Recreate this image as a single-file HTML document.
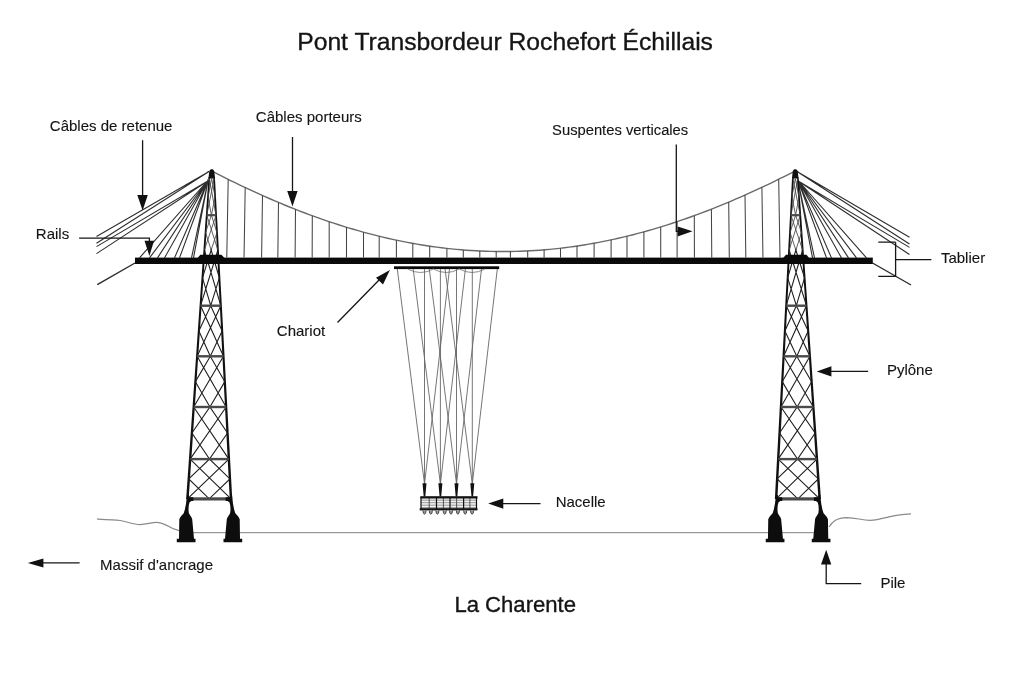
<!DOCTYPE html>
<html><head><meta charset="utf-8"><style>
html,body{margin:0;padding:0;background:#fff;width:1030px;height:681px;overflow:hidden;position:relative}
.t{position:absolute;font-family:"Liberation Sans",sans-serif;color:#1e1e1e;white-space:nowrap;line-height:0;height:0}
</style></head><body>
<svg width="1030" height="681" viewBox="0 0 1030 681" style="position:absolute;left:0;top:0;filter:blur(0.35px)">
<path d="M190,532.6 L816,532.6" stroke="#9a9a9a" stroke-width="1.3" fill="none"/>
<path d="M96.9,519 C108,519.5 115,519.8 120,520.5 C128,522 134,524.6 140,524.6 C147,524.2 152,522.3 157,522.4 C162,522.6 164,524.2 168,526 C172,528.5 176,530 179,530.6" stroke="#8a8a8a" stroke-width="1.2" fill="none"/>
<path d="M829,527 C831,524 832.5,522 835,520.5 C839,518.2 843,517.6 847,517.6 C856,517.8 862,520.2 870,520.3 C880,519.8 887,516.8 895,515.6 C902,514.7 906,514.2 911,513.9" stroke="#8a8a8a" stroke-width="1.2" fill="none"/>
<path d="M209.00,171.5 L96.50,236.5 M209.00,171.5 L96.50,243.2 M208.20,180.8 L96.50,246.6 M208.20,180.8 L96.50,253.6 M208.20,180 L193.50,257.90000000000003 M208.20,180 L191.50,257.90000000000003 M208.20,180 L179.50,257.90000000000003 M208.20,180 L174.50,257.90000000000003 M208.20,180 L164.50,257.90000000000003 M208.20,180 L157.50,257.90000000000003 M208.20,180 L149.50,257.90000000000003 M208.20,180 L139.50,257.90000000000003 M797.00,171.5 L909.50,237.2 M797.00,171.5 L909.50,244.0 M797.80,180.8 L909.50,247.4 M797.80,180.8 L909.50,254.5 M797.80,180 L812.50,257.90000000000003 M797.80,180 L814.50,257.90000000000003 M797.80,180 L826.50,257.90000000000003 M797.80,180 L831.50,257.90000000000003 M797.80,180 L841.50,257.90000000000003 M797.80,180 L848.50,257.90000000000003 M797.80,180 L856.50,257.90000000000003 M797.80,180 L866.50,257.90000000000003" stroke="#2e2e2e" stroke-width="1.1" fill="none"/>
<path d="M135,263 L97.3,284.7 M872.5,263 L911,285" stroke="#2a2a2a" stroke-width="1.4" fill="none"/>
<path d="M211.00,170.59 L215.91,173.12 L220.82,175.62 L225.72,178.08 L230.63,180.52 L235.54,182.92 L240.45,185.29 L245.35,187.62 L250.26,189.92 L255.17,192.18 L260.08,194.40 L264.98,196.59 L269.89,198.75 L274.80,200.86 L279.71,202.94 L284.61,204.98 L289.52,206.98 L294.43,208.94 L299.34,210.86 L304.24,212.75 L309.15,214.59 L314.06,216.39 L318.97,218.15 L323.87,219.86 L328.78,221.54 L333.69,223.17 L338.60,224.76 L343.50,226.31 L348.41,227.81 L353.32,229.27 L358.23,230.69 L363.13,232.06 L368.04,233.39 L372.95,234.67 L377.86,235.91 L382.76,237.10 L387.67,238.24 L392.58,239.34 L397.49,240.40 L402.39,241.40 L407.30,242.36 L412.21,243.28 L417.12,244.14 L422.03,244.96 L426.93,245.73 L431.84,246.46 L436.75,247.13 L441.66,247.76 L446.56,248.34 L451.47,248.88 L456.38,249.36 L461.29,249.80 L466.19,250.19 L471.10,250.53 L476.01,250.82 L480.92,251.06 L485.82,251.25 L490.73,251.40 L495.64,251.50 L500.55,251.55 L505.45,251.55 L510.36,251.50 L515.27,251.40 L520.18,251.25 L525.08,251.06 L529.99,250.81 L534.90,250.52 L539.81,250.18 L544.71,249.79 L549.62,249.36 L554.53,248.87 L559.44,248.34 L564.34,247.76 L569.25,247.13 L574.16,246.46 L579.07,245.73 L583.97,244.96 L588.88,244.14 L593.79,243.28 L598.70,242.37 L603.61,241.41 L608.51,240.40 L613.42,239.35 L618.33,238.26 L623.24,237.12 L628.14,235.93 L633.05,234.70 L637.96,233.42 L642.87,232.10 L647.77,230.73 L652.68,229.32 L657.59,227.87 L662.50,226.37 L667.40,224.83 L672.31,223.25 L677.22,221.62 L682.13,219.95 L687.03,218.24 L691.94,216.49 L696.85,214.70 L701.76,212.87 L706.66,211.00 L711.57,209.09 L716.48,207.14 L721.39,205.15 L726.29,203.13 L731.20,201.06 L736.11,198.96 L741.02,196.83 L745.92,194.65 L750.83,192.44 L755.74,190.20 L760.65,187.92 L765.55,185.60 L770.46,183.26 L775.37,180.88 L780.28,178.46 L785.18,176.02 L790.09,173.54 L795.00,171.04" stroke="#6a6a6a" stroke-width="1.4" fill="none"/>
<path d="M228.20,179.32 L226.77,257.6 M245.20,187.55 L244.03,257.6 M262.50,195.49 L261.60,257.6 M278.50,202.43 L277.84,257.6 M295.50,209.37 L295.11,257.6 M312.30,215.75 L312.17,257.6 M329.20,221.68 L329.20,257.6 M346.50,227.23 L346.50,257.6 M363.50,232.16 L363.50,257.6 M379.20,236.24 L379.20,257.6 M396.40,240.17 L396.40,257.6 M412.80,243.38 L412.80,257.6 M429.70,246.15 L429.70,257.6 M446.90,248.38 L446.90,257.6 M463.30,249.96 L463.30,257.6 M479.80,251.01 L479.80,257.6 M496.20,251.51 L496.20,257.6 M510.40,251.50 L510.40,257.6 M527.70,250.93 L527.70,257.6 M544.10,249.85 L544.10,257.6 M560.50,248.22 L560.50,257.6 M577.00,246.04 L577.00,257.6 M594.10,243.22 L594.10,257.6 M611.10,239.86 L611.10,257.6 M627.00,236.21 L627.00,257.6 M643.90,231.81 L643.90,257.6 M660.70,226.92 L660.70,257.6 M677.10,221.66 L677.10,257.6 M694.30,215.64 L694.43,257.6 M711.40,209.16 L711.76,257.6 M728.70,202.12 L729.30,257.6 M745.00,195.06 L745.82,257.6 M761.90,187.33 L762.95,257.6 M778.70,179.24 L779.98,257.6" stroke="#444" stroke-width="1.05" fill="none"/>
<path d="M208.52,177.0 L210.22,177.0 L188.66,499.0 L186.16,499.0 Z M213.20,177.0 L214.90,177.0 L232.24,499.0 L229.74,499.0 Z" fill="#111"/>
<path d="M209.16,172 C209.56,169.6 210.76,169.2 211.76,169.2 C212.76,169.2 213.96,169.6 214.36,172 L215.06,178.4 L208.46,178.4 Z" fill="#111"/>
<path d="M209.27,178.5 L216.06,215.2 M214.13,178.5 L206.76,215.2 M208.01,196.85 L211.70,178.5 L215.09,196.85 L211.41,215.2 Z" stroke="#444" stroke-width="0.85" fill="none"/>
<path d="M206.76,215.2 L217.89,250 M216.06,215.2 L204.39,250 M205.58,232.60 L211.41,215.2 L216.97,232.60 L211.14,250 Z" stroke="#444" stroke-width="0.85" fill="none"/>
<path d="M204.39,250 L220.82,305.7 M217.89,250 L200.59,305.7 M202.49,277.85 L211.14,250 L219.35,277.85 L210.71,305.7 Z" stroke="#1e1e1e" stroke-width="1.1" fill="none"/>
<path d="M200.59,305.7 L223.48,356.3 M220.82,305.7 L197.14,356.3 M198.87,331.00 L210.71,305.7 L222.15,331.00 L210.31,356.3 Z" stroke="#1e1e1e" stroke-width="1.1" fill="none"/>
<path d="M197.14,356.3 L226.15,407 M223.48,356.3 L193.69,407 M195.41,381.65 L210.31,356.3 L224.82,381.65 L209.92,407 Z" stroke="#1e1e1e" stroke-width="1.1" fill="none"/>
<path d="M193.69,407 L228.89,459.1 M226.15,407 L190.13,459.1 M191.91,433.05 L209.92,407 L227.52,433.05 L209.51,459.1 Z" stroke="#1e1e1e" stroke-width="1.1" fill="none"/>
<path d="M190.13,459.1 L230.98,498.8 M228.89,459.1 L187.43,498.8 M188.78,478.95 L209.51,459.1 L229.94,478.95 L209.20,498.8 Z" stroke="#1e1e1e" stroke-width="1.1" fill="none"/>
<rect x="206.76" y="214.10" width="9.29" height="2.2" fill="#4a4a4a"/>
<rect x="200.59" y="304.50" width="20.23" height="2.4" fill="#4a4a4a"/>
<rect x="197.14" y="355.10" width="26.34" height="2.4" fill="#4a4a4a"/>
<rect x="193.69" y="405.80" width="32.46" height="2.4" fill="#4a4a4a"/>
<rect x="190.13" y="457.90" width="38.76" height="2.4" fill="#4a4a4a"/>
<rect x="187.42" y="497.30" width="43.56" height="3.2" fill="#4a4a4a"/>
<path d="M792.10,177.0 L793.80,177.0 L777.37,499.0 L774.87,499.0 Z M796.78,177.0 L798.48,177.0 L820.94,499.0 L818.44,499.0 Z" fill="#111"/>
<path d="M792.64,172 C793.04,169.6 794.24,169.2 795.24,169.2 C796.24,169.2 797.44,169.6 797.84,172 L798.54,178.4 L791.94,178.4 Z" fill="#111"/>
<path d="M792.87,178.5 L800.25,215.2 M797.73,178.5 L790.95,215.2 M791.91,196.85 L795.30,178.5 L798.99,196.85 L795.60,215.2 Z" stroke="#444" stroke-width="0.85" fill="none"/>
<path d="M790.95,215.2 L802.63,250 M800.25,215.2 L789.14,250 M790.05,232.60 L795.60,215.2 L801.44,232.60 L795.88,250 Z" stroke="#444" stroke-width="0.85" fill="none"/>
<path d="M789.14,250 L806.45,305.7 M802.63,250 L786.22,305.7 M787.68,277.85 L795.88,250 L804.54,277.85 L796.34,305.7 Z" stroke="#1e1e1e" stroke-width="1.1" fill="none"/>
<path d="M786.22,305.7 L809.92,356.3 M806.45,305.7 L783.58,356.3 M784.90,331.00 L796.34,305.7 L808.18,331.00 L796.75,356.3 Z" stroke="#1e1e1e" stroke-width="1.1" fill="none"/>
<path d="M783.58,356.3 L813.39,407 M809.92,356.3 L780.93,407 M782.25,381.65 L796.75,356.3 L811.65,381.65 L797.16,407 Z" stroke="#1e1e1e" stroke-width="1.1" fill="none"/>
<path d="M780.93,407 L816.96,459.1 M813.39,407 L778.20,459.1 M779.56,433.05 L797.16,407 L815.17,433.05 L797.58,459.1 Z" stroke="#1e1e1e" stroke-width="1.1" fill="none"/>
<path d="M778.20,459.1 L819.68,498.8 M816.96,459.1 L776.13,498.8 M777.16,478.95 L797.58,459.1 L818.32,478.95 L797.90,498.8 Z" stroke="#1e1e1e" stroke-width="1.1" fill="none"/>
<rect x="790.95" y="214.10" width="9.29" height="2.2" fill="#4a4a4a"/>
<rect x="786.22" y="304.50" width="20.23" height="2.4" fill="#4a4a4a"/>
<rect x="783.58" y="355.10" width="26.34" height="2.4" fill="#4a4a4a"/>
<rect x="780.93" y="405.80" width="32.46" height="2.4" fill="#4a4a4a"/>
<rect x="778.20" y="457.90" width="38.76" height="2.4" fill="#4a4a4a"/>
<rect x="776.12" y="497.30" width="43.56" height="3.2" fill="#4a4a4a"/>
<path d="M187.00,495.00 L186.00,503.80 L184.80,509.70 L183.70,513.30 L181.65,515.50 L180.25,517.20 L179.30,519.20 L179.00,538.70 L176.80,538.70 L176.80,542.30 L195.50,542.30 L195.50,538.70 L194.00,538.70 L192.20,519.20 L191.45,517.20 L190.70,516.30 L188.90,513.30 L188.50,509.70 L188.75,505.50 L189.60,502.30 L191.45,501.00 L193.30,500.90 L193.30,497.20 L188.90,497.20 L188.90,495.00 Z" fill="#0d0d0d"/>
<path d="M232.00,495.00 L233.00,503.80 L234.20,509.70 L235.30,513.30 L237.35,515.50 L238.75,517.20 L239.70,519.20 L240.00,538.70 L242.20,538.70 L242.20,542.30 L223.50,542.30 L223.50,538.70 L225.00,538.70 L226.80,519.20 L227.55,517.20 L228.30,516.30 L230.10,513.30 L230.50,509.70 L230.25,505.50 L229.40,502.30 L227.55,501.00 L225.70,500.90 L225.70,497.20 L230.10,497.20 L230.10,495.00 Z" fill="#0d0d0d"/>
<path d="M775.95,495.00 L774.95,503.80 L773.75,509.70 L772.65,513.30 L770.60,515.50 L769.20,517.20 L768.25,519.20 L767.95,538.70 L765.75,538.70 L765.75,542.30 L784.45,542.30 L784.45,538.70 L782.95,538.70 L781.15,519.20 L780.40,517.20 L779.65,516.30 L777.85,513.30 L777.45,509.70 L777.70,505.50 L778.55,502.30 L780.40,501.00 L782.25,500.90 L782.25,497.20 L777.85,497.20 L777.85,495.00 Z" fill="#0d0d0d"/>
<path d="M820.25,495.00 L821.25,503.80 L822.45,509.70 L823.55,513.30 L825.60,515.50 L827.00,517.20 L827.95,519.20 L828.25,538.70 L830.45,538.70 L830.45,542.30 L811.75,542.30 L811.75,538.70 L813.25,538.70 L815.05,519.20 L815.80,517.20 L816.55,516.30 L818.35,513.30 L818.75,509.70 L818.50,505.50 L817.65,502.30 L815.80,501.00 L813.95,500.90 L813.95,497.20 L818.35,497.20 L818.35,495.00 Z" fill="#0d0d0d"/>
<rect x="135" y="257.6" width="737.8" height="6.40" fill="#0a0a0a"/>
<path d="M197.2,258.6 L200.3,254.7 L221.4,254.7 L225,258.6 Z M782.7,258.6 L786,254.7 L806.5,254.7 L809.5,258.6 Z" fill="#0a0a0a"/>
<rect x="394" y="266.3" width="105.2" height="2.8" fill="#0a0a0a"/>
<path d="M407.6,269 Q420.5,276 433.4,269 Q446.3,276 459.2,269 Q472.1,276 485,269" stroke="#8a8a8a" stroke-width="1" fill="none"/>
<path d="M397.30,269 L424.50,484 M424.50,269 L424.50,484 M449.50,269 L424.50,484 M413.20,269 L440.40,484 M440.40,269 L440.40,484 M465.40,269 L440.40,484 M429.30,269 L456.50,484 M456.50,269 L456.50,484 M481.50,269 L456.50,484 M445.10,269 L472.30,484 M472.30,269 L472.30,484 M497.30,269 L472.30,484" stroke="#666" stroke-width="0.9" fill="none"/>
<path d="M422.50,483.3 L426.50,483.3 L425.30,496.5 L423.70,496.5 Z M438.40,483.3 L442.40,483.3 L441.20,496.5 L439.60,496.5 Z M454.50,483.3 L458.50,483.3 L457.30,496.5 L455.70,496.5 Z M470.30,483.3 L474.30,483.3 L473.10,496.5 L471.50,496.5 Z" fill="#111"/>
<rect x="421" y="498" width="55.8" height="11" fill="#f4f4f4"/>
<path d="M421,500.2 H477 M421,502.7 H477 M421,505.2 H477 M421,507.6 H477" stroke="#8a8a8a" stroke-width="0.9"/>
<path d="M421,497 V509 M436.5,497 V509 M450,497 V509 M463.6,497 V509 M476.5,497 V509" stroke="#111" stroke-width="1.2"/>
<path d="M429.2,497 V509 M443.4,497 V509 M456.6,497 V509 M469.9,497 V509" stroke="#444" stroke-width="0.9"/>
<rect x="420.3" y="496.2" width="57.2" height="2.3" fill="#111"/>
<rect x="419.7" y="508.2" width="57.8" height="2.2" fill="#111"/>
<path d="M422.9,510.4 Q423.0,514.2 424.5,514.2 Q426.0,514.2 426.1,510.4 M429.2,510.4 Q429.3,514.2 430.8,514.2 Q432.3,514.2 432.40000000000003,510.4 M435.79999999999995,510.4 Q435.9,514.2 437.4,514.2 Q438.9,514.2 439.0,510.4 M443.09999999999997,510.4 Q443.2,514.2 444.7,514.2 Q446.2,514.2 446.3,510.4 M449.4,510.4 Q449.5,514.2 451,514.2 Q452.5,514.2 452.6,510.4 M456.29999999999995,510.4 Q456.4,514.2 457.9,514.2 Q459.4,514.2 459.5,510.4 M463.59999999999997,510.4 Q463.7,514.2 465.2,514.2 Q466.7,514.2 466.8,510.4 M470.5,510.4 Q470.6,514.2 472.1,514.2 Q473.6,514.2 473.70000000000005,510.4" fill="#999" stroke="#333" stroke-width="0.8"/>
<path d="M142.6,140.3 V196 M292.5,136.9 V192 M676.3,144.4 V231.3 H678 M79.1,238.2 H149.4 V241 M337.5,322.5 L380,279 M503,503.6 H540.5 M831,371.4 H868.2 M43,562.9 H79.6 M826.2,563 V583.6 H861.2 M895.6,242.2 V276.4 M878.3,242.2 H895.6 M878.3,276.4 H895.6 M895.6,259.6 H931.4" stroke="#161616" stroke-width="1.3" fill="none"/>
<path d="M137.3,195.1 L147.8,195.1 L142.6,210.5 Z M287.2,191.1 L297.6,191.1 L292.5,206.5 Z M677.6,226.5 L677.6,236.6 L692.5,231.3 Z M144.5,240.8 L154,240.8 L149.4,256 Z M389.9,270.1 L376,277.7 L383,284.4 Z M488.2,503.6 L503.3,498.6 L503.3,508.8 Z M816.7,371.4 L831.4,366.3 L831.4,376.5 Z M27.8,562.9 L43.4,558.4 L43.4,567.6 Z M826.2,549.8 L821,564.5 L831.3,564.5 Z" fill="#111"/>
<g font-family="Liberation Sans, sans-serif" fill="#141414">
<text x="297.20" y="49.80" font-size="24.7" stroke="#141414" stroke-width="0.35">Pont Transbordeur Rochefort Échillais</text>
<text x="49.85" y="131.00" font-size="15" stroke="#141414" stroke-width="0.12">Câbles de retenue</text>
<text x="255.85" y="122.40" font-size="15" stroke="#141414" stroke-width="0.12">Câbles porteurs</text>
<text x="552.10" y="134.90" font-size="14.75" stroke="#141414" stroke-width="0.12">Suspentes verticales</text>
<text x="35.80" y="238.80" font-size="15" stroke="#141414" stroke-width="0.12">Rails</text>
<text x="276.85" y="336.40" font-size="15" stroke="#141414" stroke-width="0.12">Chariot</text>
<text x="886.90" y="374.50" font-size="15" stroke="#141414" stroke-width="0.12">Pylône</text>
<text x="940.95" y="263.00" font-size="15" stroke="#141414" stroke-width="0.12">Tablier</text>
<text x="555.65" y="507.00" font-size="15" stroke="#141414" stroke-width="0.12">Nacelle</text>
<text x="100.10" y="569.90" font-size="15" stroke="#141414" stroke-width="0.12">Massif d'ancrage</text>
<text x="880.40" y="587.70" font-size="15" stroke="#141414" stroke-width="0.12">Pile</text>
<text x="454.40" y="611.60" font-size="22.1" stroke="#141414" stroke-width="0.35">La Charente</text>
</g>
</svg>
</body></html>
